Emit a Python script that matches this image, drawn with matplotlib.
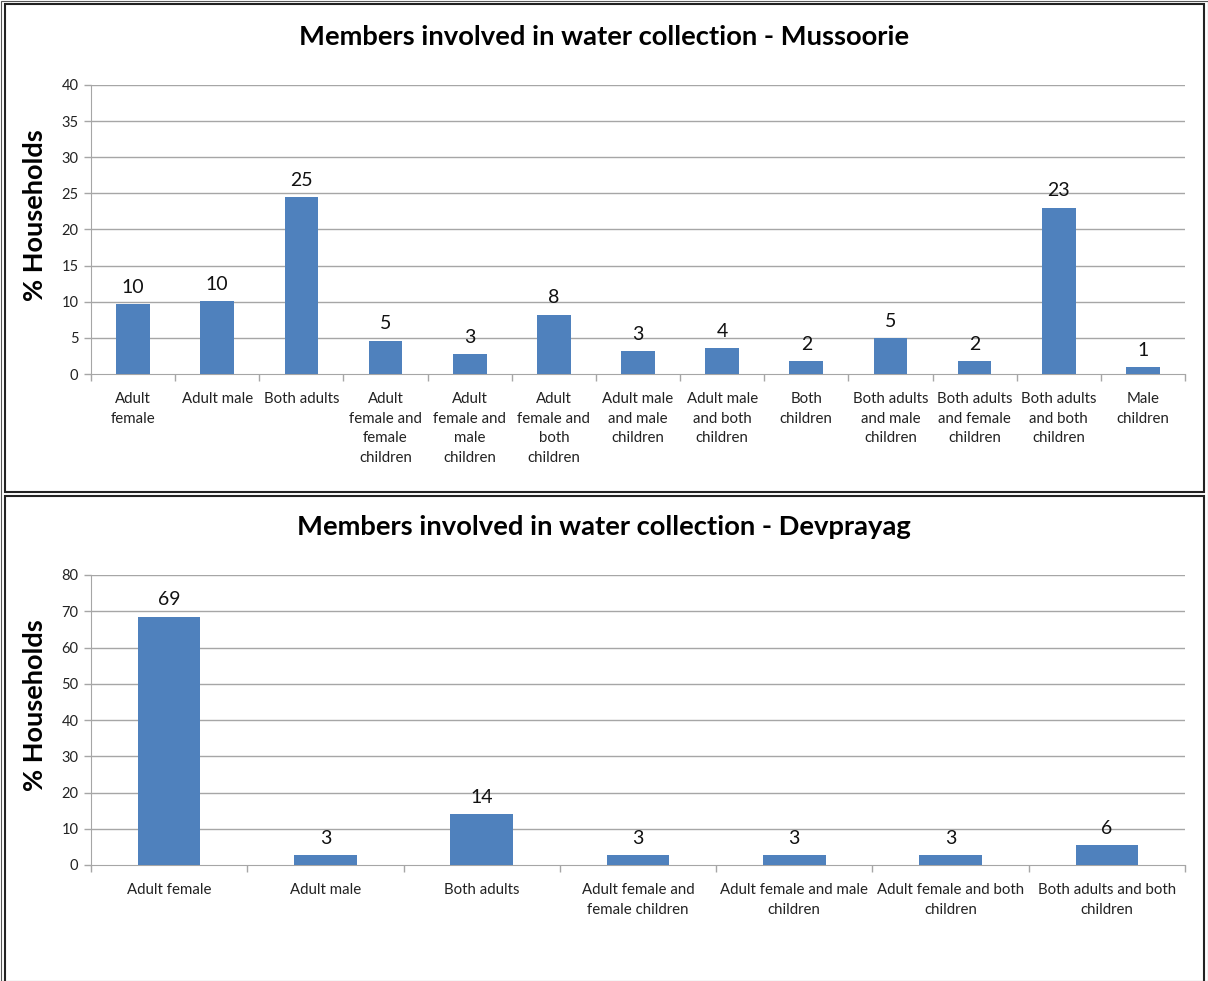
import matplotlib
matplotlib.use("Agg")
import matplotlib.pyplot as plt
from matplotlib.patches import Rectangle

plt.rcParams['font.family'] = ['Lato', 'DejaVu Sans']

# ---- data ----
mus_categories = ["Adult\nfemale", "Adult male", "Both adults", "Adult\nfemale and\nfemale\nchildren",
                  "Adult\nfemale and\nmale\nchildren", "Adult\nfemale and\nboth\nchildren",
                  "Adult male\nand male\nchildren", "Adult male\nand both\nchildren", "Both\nchildren",
                  "Both adults\nand male\nchildren", "Both adults\nand female\nchildren",
                  "Both adults\nand both\nchildren", "Male\nchildren"]
mus_values = [9.7, 10.1, 24.5, 4.6, 2.7, 8.2, 3.2, 3.6, 1.8, 5.0, 1.8, 23.0, 0.9]
mus_labels = ["10", "10", "25", "5", "3", "8", "3", "4", "2", "5", "2", "23", "1"]
mus_yticks = [0, 5, 10, 15, 20, 25, 30, 35, 40]

dev_categories = ["Adult female", "Adult male", "Both adults", "Adult female and\nfemale children",
                  "Adult female and male\nchildren", "Adult female and both\nchildren",
                  "Both adults and both\nchildren"]
dev_values = [68.5, 2.8, 14.1, 2.8, 2.8, 2.8, 5.5]
dev_labels = ["69", "3", "14", "3", "3", "3", "6"]
dev_yticks = [0, 10, 20, 30, 40, 50, 60, 70, 80]

titles = ["Members involved in water collection - Mussoorie",
          "Members involved in water collection - Devprayag"]

W, H = 1208, 981
fig = plt.figure(figsize=(W / 100, H / 100), dpi=100)

BAR = "#4F81BD"
GRID = "#A6A6A6"

def px_axes(x0, y0, x1, y1):
    return fig.add_axes([x0 / W, 1 - y1 / H, (x1 - x0) / W, (y1 - y0) / H])

def draw(ax, cats, vals, labs, yticks, title_y, title):
    n = len(cats)
    xs = list(range(n))
    ax.bar(xs, vals, width=0.4, color=BAR, zorder=3)
    ax.set_xlim(-0.5, n - 0.5)
    ax.set_ylim(yticks[0], yticks[-1])
    ax.set_yticks(yticks)
    ax.set_yticklabels([str(t) for t in yticks], fontsize=10.5, color="#222222")
    ax.set_xticks(xs)
    ax.set_xticklabels(cats, fontsize=10.8, color="#222222", linespacing=1.5, va="top")
    ax.tick_params(axis="x", length=0, pad=13)
    # boundary tick marks
    ax.set_xticks([i - 0.5 for i in range(n + 1)], minor=True)
    ax.tick_params(axis="x", which="minor", length=5, color=GRID, width=1)
    ax.tick_params(axis="y", length=5, color=GRID, width=1, pad=4)
    for y in yticks[1:]:
        ax.axhline(y, color=GRID, lw=1, zorder=1)
    for s in ["top", "right"]:
        ax.spines[s].set_visible(False)
    ax.spines["left"].set_color(GRID)
    ax.spines["bottom"].set_color(GRID)
    for x, v, l in zip(xs, vals, labs):
        ax.annotate(l, (x, v), xytext=(0, 6), textcoords="offset points",
                    ha="center", va="bottom", fontsize=14, color="#111111")
    ax.set_ylabel("% Households", fontsize=19.5, fontweight="bold")
    ax.yaxis.set_label_coords(-0.04, 0.55)
    fig.text(0.5, 1 - title_y / H, title, ha="center", va="center",
             fontsize=19.7, fontweight="bold")

ax1 = px_axes(91, 85, 1185, 374)
draw(ax1, mus_categories, mus_values, mus_labels, mus_yticks, 37, titles[0])
ax2 = px_axes(91, 575, 1185, 865)
draw(ax2, dev_categories, dev_values, dev_labels, dev_yticks, 527, titles[1])

# panel frames
for (x0, y0, x1, y1) in [(5, 4, 1204, 492), (5, 496, 1204, 990)]:
    fig.add_artist(Rectangle((x0 / W, 1 - y1 / H), (x1 - x0) / W, (y1 - y0) / H,
                             transform=fig.transFigure, fill=False,
                             edgecolor="#222222", lw=1.5))
fig.add_artist(Rectangle((0.5 / W, 0), (W - 1) / W, 1 - 0.5 / H, transform=fig.transFigure,
                         fill=False, edgecolor="#555555", lw=0.8))

fig.savefig("out.png", dpi=100)
